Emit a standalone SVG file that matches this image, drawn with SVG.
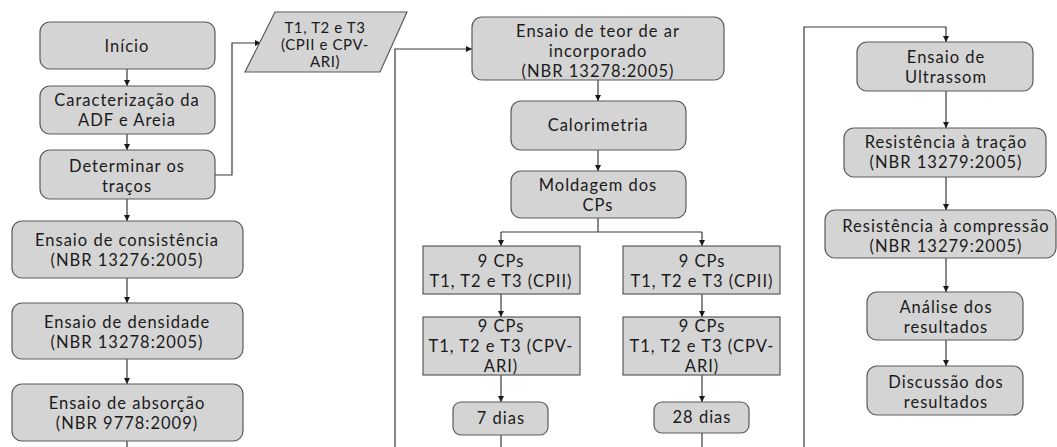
<svg xmlns="http://www.w3.org/2000/svg" width="1057" height="447" viewBox="0 0 1057 447">
<style>
.b{fill:#d4d4d4;stroke:#5a5a5a;stroke-width:1.2}
.t{font-family:Lato,"Open Sans","Liberation Sans",sans-serif;font-size:16.5px;letter-spacing:1px;fill:#1a1a1a;text-anchor:middle}
.s{font-size:15px;letter-spacing:0.6px}
.c{fill:none;stroke:#3a3a3a;stroke-width:1.2}
</style>
<defs>
<marker id="a" viewBox="0 0 10 10" refX="10" refY="5" markerWidth="6" markerHeight="6" markerUnits="userSpaceOnUse" orient="auto">
<path d="M0,0L10,5L0,10z" fill="#1a1a1a"/>
</marker>
</defs>
<rect width="1057" height="447" fill="#fff"/>
<g id="connectors">
<path class="c" d="M127,69V86" marker-end="url(#a)"/>
<path class="c" d="M127,134V150" marker-end="url(#a)"/>
<path class="c" d="M127,199V221" marker-end="url(#a)"/>
<path class="c" d="M127,278V303" marker-end="url(#a)"/>
<path class="c" d="M127,359V384" marker-end="url(#a)"/>
<path class="c" d="M127,441V447"/>
<path class="c" d="M215,175H232V43H261" marker-end="url(#a)"/>
<path class="c" d="M395,447V49H472" marker-end="url(#a)"/>
<path class="c" d="M598,80V101" marker-end="url(#a)"/>
<path class="c" d="M598,150V171" marker-end="url(#a)"/>
<path class="c" d="M598,218V232"/>
<path class="c" d="M501,232H702"/>
<path class="c" d="M501,232V246" marker-end="url(#a)"/>
<path class="c" d="M702,232V246" marker-end="url(#a)"/>
<path class="c" d="M501,294V317" marker-end="url(#a)"/>
<path class="c" d="M702,294V317" marker-end="url(#a)"/>
<path class="c" d="M501,375V402" marker-end="url(#a)"/>
<path class="c" d="M702,375V402" marker-end="url(#a)"/>
<path class="c" d="M501,435V447"/>
<path class="c" d="M702,433V447"/>
<path class="c" d="M804,447V27H946V42" marker-end="url(#a)"/>
<path class="c" d="M946,91V128" marker-end="url(#a)"/>
<path class="c" d="M946,177V210" marker-end="url(#a)"/>
<path class="c" d="M946,258V292" marker-end="url(#a)"/>
<path class="c" d="M946,340V366" marker-end="url(#a)"/>
</g>
<g id="inicio"><rect class="b" x="40" y="22" width="175" height="47" rx="10"/><text class="t" x="127" y="52">Início</text></g>
<g id="caracterizacao"><rect class="b" x="40" y="86" width="175" height="48" rx="10"/><text class="t" x="127" y="106">Caracterização da</text><text class="t" x="127" y="126">ADF e Areia</text></g>
<g id="determinar"><rect class="b" x="40" y="150" width="175" height="49" rx="10"/><text class="t" x="127" y="172">Determinar os</text><text class="t" x="127" y="192">traços</text></g>
<g id="tracos"><path class="b" d="M275,12H407L380,72H245Z"/><text class="t s" x="325" y="33">T1, T2 e T3</text><text class="t s" x="325" y="50">(CPII e CPV-</text><text class="t s" x="325" y="67">ARI)</text></g>
<g id="consistencia"><rect class="b" x="12" y="221" width="231" height="57" rx="10"/><text class="t" x="127" y="246">Ensaio de consistência</text><text class="t" x="127" y="266">(NBR 13276:2005)</text></g>
<g id="densidade"><rect class="b" x="12" y="303" width="231" height="56" rx="10"/><text class="t" x="127" y="328">Ensaio de densidade</text><text class="t" x="127" y="348">(NBR 13278:2005)</text></g>
<g id="absorcao"><rect class="b" x="12" y="384" width="231" height="57" rx="10"/><text class="t" x="127" y="409">Ensaio de absorção</text><text class="t" x="127" y="429">(NBR 9778:2009)</text></g>
<g id="teor"><rect class="b" x="472" y="17" width="252" height="63" rx="10"/><text class="t" x="598" y="37">Ensaio de teor de ar</text><text class="t" x="598" y="57">incorporado</text><text class="t" x="598" y="77">(NBR 13278:2005)</text></g>
<g id="calorimetria"><rect class="b" x="511" y="101" width="175" height="49" rx="10"/><text class="t" x="598" y="131">Calorimetria</text></g>
<g id="moldagem"><rect class="b" x="511" y="171" width="175" height="47" rx="10"/><text class="t" x="598" y="191">Moldagem dos</text><text class="t" x="598" y="211">CPs</text></g>
<g id="cpii7"><rect class="b" x="423" y="246" width="157" height="48"/><text class="t" x="501" y="267">9 CPs</text><text class="t" x="501" y="287">T1, T2 e T3 (CPII)</text></g>
<g id="cpii28"><rect class="b" x="623" y="246" width="157" height="48"/><text class="t" x="702" y="267">9 CPs</text><text class="t" x="702" y="287">T1, T2 e T3 (CPII)</text></g>
<g id="cpv7"><rect class="b" x="423" y="317" width="157" height="58"/><text class="t" x="501" y="332">9 CPs</text><text class="t" x="501" y="352">T1, T2 e T3 (CPV-</text><text class="t" x="501" y="372">ARI)</text></g>
<g id="cpv28"><rect class="b" x="623" y="317" width="157" height="58"/><text class="t" x="702" y="332">9 CPs</text><text class="t" x="702" y="352">T1, T2 e T3 (CPV-</text><text class="t" x="702" y="372">ARI)</text></g>
<g id="dias7"><rect class="b" x="453" y="402" width="95" height="33" rx="8"/><text class="t" x="501" y="424">7 dias</text></g>
<g id="dias28"><rect class="b" x="654" y="402" width="95" height="31" rx="8"/><text class="t" x="702" y="423">28 dias</text></g>
<g id="ultrassom"><rect class="b" x="857" y="42" width="176" height="49" rx="10"/><text class="t" x="946" y="63">Ensaio de</text><text class="t" x="946" y="83">Ultrassom</text></g>
<g id="tracao"><rect class="b" x="844" y="128" width="202" height="49" rx="10"/><text class="t" x="946" y="148">Resistência à tração</text><text class="t" x="946" y="168">(NBR 13279:2005)</text></g>
<g id="compressao"><rect class="b" x="825" y="210" width="231" height="48" rx="10"/><text class="t" x="946" y="232">Resistência à compressão</text><text class="t" x="946" y="252">(NBR 13279:2005)</text></g>
<g id="analise"><rect class="b" x="867" y="292" width="156" height="48" rx="10"/><text class="t" x="946" y="313">Análise dos</text><text class="t" x="946" y="333">resultados</text></g>
<g id="discussao"><rect class="b" x="867" y="366" width="156" height="49" rx="10"/><text class="t" x="946" y="388">Discussão dos</text><text class="t" x="946" y="408">resultados</text></g>
</svg>
